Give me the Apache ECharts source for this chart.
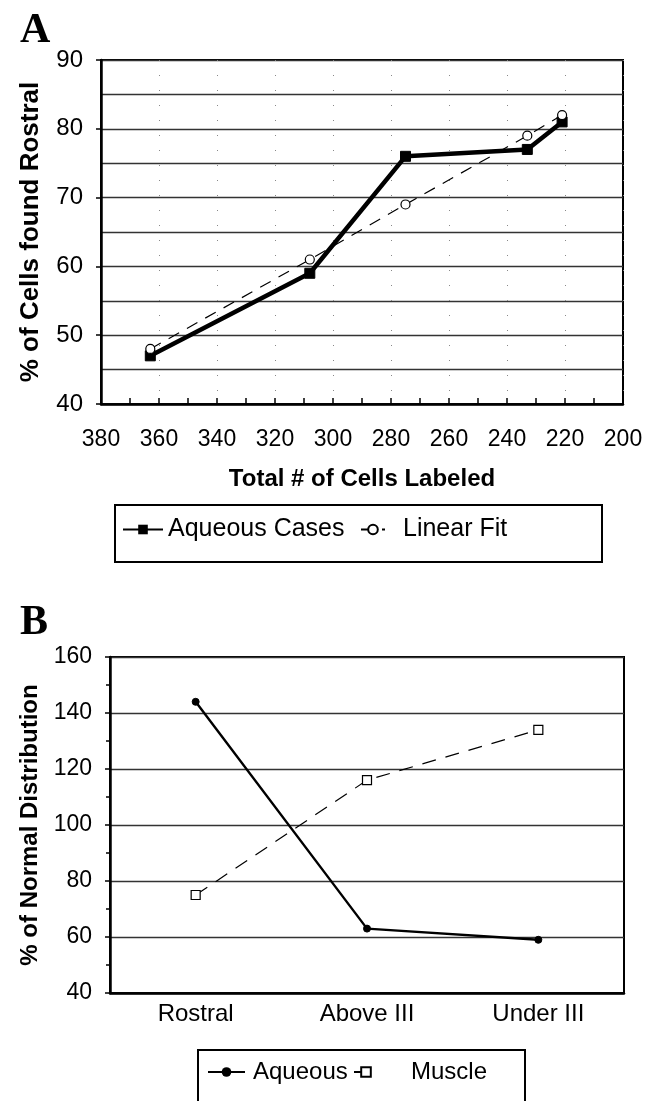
<!DOCTYPE html>
<html>
<head>
<meta charset="utf-8">
<script src="https://cdn.jsdelivr.net/npm/echarts@6/dist/echarts.min.js"></script>
<style>
  html, body { margin: 0; padding: 0; background: #fff; }
  #main { width: 654px; height: 1101px; }
</style>
</head>
<body>
<div id="main"></div>
<script>
// panel A: % of cells found rostral vs total # labeled
var aqueousCasesX = [363, 308, 275, 233, 221];
var aqueousCasesY = [47, 59, 76, 77, 81];
var linearFitX = [363, 308, 275, 233, 221];
var linearFitY = [48, 61, 69, 79, 82];

// panel B: % of normal distribution
var regions = ['Rostral', 'Above III', 'Under III'];
var aqueousB = [144, 63, 59];
var muscleB = [75, 116, 134];

function pairs(xs, ys) {
    return xs.map(function (x, i) { return [x, ys[i]]; });
}

var font = "'Liberation Sans', Arial, sans-serif";
var serif = "'Liberation Serif', 'DejaVu Serif', serif";
var gridLine = { show: true, lineStyle: { color: '#333', width: 1.3 } };

// one legend component per item so icon widths / spacing can follow the picture
function legendItem(name, left, top, iconW, textPad, size) {
    return {
        data: [name], left: left, top: top, padding: 0,
        itemWidth: iconW, itemHeight: 12,
        textStyle: { fontSize: size, color: '#000', fontFamily: font, padding: [0, 0, 0, textPad] }
    };
}

var chart = echarts.init(document.getElementById('main'));
var option = {
    animation: false,
    backgroundColor: '#fff',
    textStyle: { fontFamily: font, color: '#000' },
    title: [
        { text: 'A', left: 15, top: 5, textStyle: { fontFamily: serif, fontSize: 42, fontWeight: 'bold', color: '#000' } },
        { text: 'B', left: 15, top: 597, textStyle: { fontFamily: serif, fontSize: 42, fontWeight: 'bold', color: '#000' } }
    ],
    graphic: [
        { type: 'rect', shape: { x: 115, y: 505, width: 487, height: 57 }, style: { fill: 'none', stroke: '#000', lineWidth: 2 } },
        { type: 'rect', shape: { x: 198, y: 1050, width: 327, height: 70 }, style: { fill: 'none', stroke: '#000', lineWidth: 2 } }
    ],
    grid: [
        { left: 101, right: 31, top: 60, height: 344, show: true, borderColor: '#000', borderWidth: 2 },
        { left: 110, right: 30, top: 657, height: 336, show: true, borderColor: '#000', borderWidth: 2 }
    ],
    xAxis: [
        {
            gridIndex: 0, type: 'value', inverse: true, min: 200, max: 380, interval: 20,
            name: 'Total # of Cells Labeled', nameLocation: 'middle', nameGap: 63,
            nameTextStyle: { fontSize: 24, fontWeight: 'bold', color: '#000' },
            axisLine: { lineStyle: { color: '#000', width: 2.5 } },
            axisTick: { show: true, inside: true, length: 6, lineStyle: { color: '#000', width: 1.5 } },
            minorTick: { show: true, splitNumber: 2, length: 6, lineStyle: { color: '#000', width: 1.5 } },
            axisLabel: { fontSize: 23, color: '#000', margin: 24 },
            splitLine: { show: true, lineStyle: { color: '#888', width: 1, type: [1, 14] } }
        },
        {
            gridIndex: 1, type: 'category', data: regions, boundaryGap: true,
            axisLine: { lineStyle: { color: '#000', width: 2.5 } },
            axisTick: { show: false },
            axisLabel: { fontSize: 24, color: '#000', margin: 9 },
            splitLine: { show: false }
        }
    ],
    yAxis: [
        {
            gridIndex: 0, type: 'value', min: 40, max: 90, interval: 10,
            name: '% of Cells found Rostral', nameLocation: 'middle', nameGap: 57,
            nameTextStyle: { fontSize: 26, fontWeight: 'bold', color: '#000' },
            axisLine: { show: true, lineStyle: { color: '#000', width: 2.5 } },
            axisTick: { show: true, length: 5, lineStyle: { color: '#000', width: 1.5 } },
            axisLabel: { fontSize: 24, color: '#000', margin: 18 },
            splitLine: gridLine,
            minorTick: { show: false, splitNumber: 2 },
            minorSplitLine: { show: true, lineStyle: { color: '#333', width: 1.3 } }
        },
        {
            gridIndex: 1, type: 'value', min: 40, max: 160, interval: 20,
            name: '% of Normal Distribution', nameLocation: 'middle', nameGap: 67,
            nameTextStyle: { fontSize: 24, fontWeight: 'bold', color: '#000' },
            axisLine: { show: true, lineStyle: { color: '#000', width: 2.5 } },
            axisTick: { show: true, inside: false, length: 5, lineStyle: { color: '#000', width: 1.5 } },
            minorTick: { show: true, splitNumber: 2, length: 4, lineStyle: { color: '#000', width: 1.5 } },
            axisLabel: { fontSize: 23, color: '#000', margin: 18 },
            splitLine: gridLine
        }
    ],
    legend: [
        legendItem('Aqueous Cases', 122, 517, 40, 0, 25),
        legendItem('Linear Fit', 360, 517, 24, 13, 25),
        legendItem('Aqueous', 207, 1060, 37, 3, 24),
        legendItem('Muscle', 353, 1060, 24, 28, 24)
    ],
    series: [
        {
            name: 'Aqueous Cases', type: 'line', xAxisIndex: 0, yAxisIndex: 0,
            data: pairs(aqueousCasesX, aqueousCasesY),
            symbol: 'rect', symbolSize: 10,
            lineStyle: { color: '#000', width: 4.5 },
            itemStyle: { color: '#000', borderColor: '#000' },
            z: 3
        },
        {
            name: 'Linear Fit', type: 'line', xAxisIndex: 0, yAxisIndex: 0,
            data: pairs(linearFitX, linearFitY),
            symbol: 'circle', symbolSize: 9,
            lineStyle: { color: '#000', width: 1.2, type: [12, 9] },
            itemStyle: { color: '#fff', borderColor: '#000', borderWidth: 1.2 },
            z: 4
        },
        {
            name: 'Aqueous', type: 'line', xAxisIndex: 1, yAxisIndex: 1,
            data: aqueousB,
            symbol: 'circle', symbolSize: 7,
            lineStyle: { color: '#000', width: 2.4 },
            itemStyle: { color: '#000', borderColor: '#000' }
        },
        {
            name: 'Muscle', type: 'line', xAxisIndex: 1, yAxisIndex: 1,
            data: muscleB,
            symbol: 'rect', symbolSize: 9,
            lineStyle: { color: '#000', width: 1.2, type: [14, 10] },
            itemStyle: { color: '#fff', borderColor: '#000', borderWidth: 1.2 }
        }
    ]
};
chart.setOption(option);
</script>
</body>
</html>
